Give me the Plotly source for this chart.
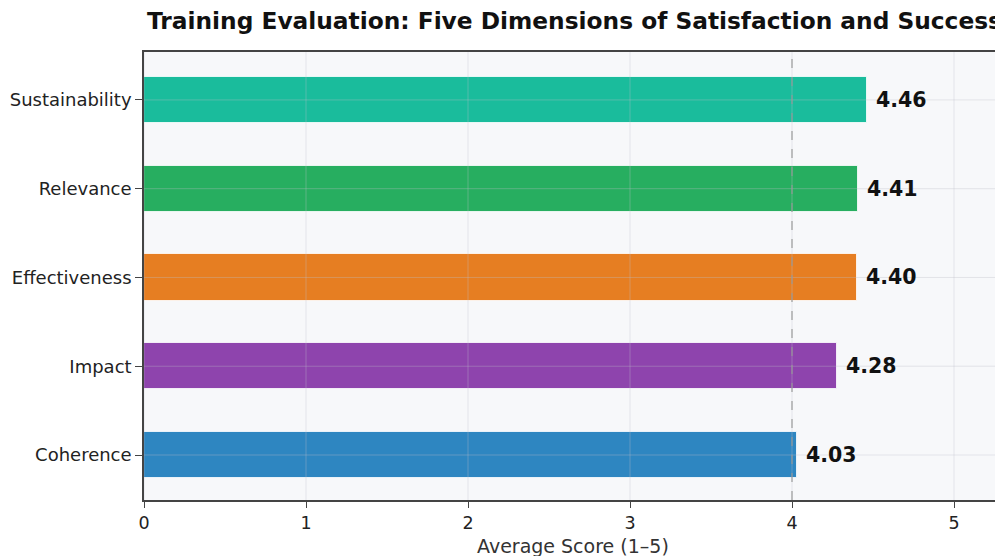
import plotly.graph_objects as go

categories = ["Coherence", "Impact", "Effectiveness", "Relevance", "Sustainability"]
scores = [4.03, 4.28, 4.40, 4.41, 4.46]
colors = ["#2e86c1", "#8e44ad", "#e67e22", "#27ae60", "#1abc9c"]
x_ticks = [0, 1, 2, 3, 4, 5]
benchmark = 4

W, H = 995, 556
L, T, B = 144, 52, 56

fig = go.Figure()
fig.add_trace(go.Bar(
    y=categories, x=scores, orientation="h",
    marker=dict(color=colors, line=dict(color="rgba(255,255,255,0.8)", width=1)),
    width=0.52, hoverinfo="skip",
))

shapes = []
for t in x_ticks:
    shapes.append(dict(type="line", xref="x", yref="paper", x0=t, x1=t, y0=0, y1=1,
                       line=dict(color="rgba(190,190,200,0.35)", width=1), layer="above"))
for c in categories:
    shapes.append(dict(type="line", xref="paper", yref="y", x0=0, x1=1, y0=c, y1=c,
                       line=dict(color="rgba(190,190,200,0.35)", width=1), layer="above"))
shapes.append(dict(type="line", xref="x", yref="paper", x0=benchmark, x1=benchmark, y0=0, y1=1,
                   line=dict(color="rgba(150,150,150,0.75)", width=1.5, dash="dash"), layer="above"))

annotations = []
for c, v in zip(categories, scores):
    annotations.append(dict(x=v, y=c, xref="x", yref="y", text=f"{v:.2f}", showarrow=False,
                            xanchor="left", xshift=7,
                            font=dict(family="DejaVu Sans", size=20.5, color="#111111", weight="bold")))
annotations.append(dict(x=(573 - L) / (W - L), y=-(546 - (H - B)) / (H - B - T), xref="paper", yref="paper",
                        text="Average Score (1–5)", showarrow=False, xanchor="center", yanchor="middle",
                        font=dict(family="DejaVu Sans", size=19, color="#333333")))

fig.update_layout(
    width=W, height=H,
    margin=dict(l=L, r=0, t=T, b=B),
    paper_bgcolor="white", plot_bgcolor="#f7f8fa",
    showlegend=False,
    title=dict(text="<b>Training Evaluation: Five Dimensions of Satisfaction and Success</b>",
               x=147 / W, xref="container", xanchor="left",
               y=1 - 21 / H, yref="container", yanchor="middle",
               font=dict(family="DejaVu Sans", size=23.3, color="#111111")),
    shapes=shapes, annotations=annotations,
    bargap=0,
)
fig.update_xaxes(range=[0, (W - L) / 162], tickvals=x_ticks, showgrid=False, zeroline=False,
                 showline=True, mirror=True, linecolor="#444444", linewidth=1.6,
                 ticks="outside", ticklen=6, tickwidth=1.3, tickcolor="#444444",
                 tickfont=dict(family="DejaVu Sans", size=17.5, color="#222222"))
fig.update_yaxes(range=[-0.507, 4.54], showgrid=False, zeroline=False,
                 showline=True, linecolor="#444444", linewidth=1.6,
                 ticks="outside", ticklen=7, tickwidth=1.3, tickcolor="#444444",
                 tickfont=dict(family="DejaVu Sans", size=18, color="#222222"))

fig.write_html("out.html")
